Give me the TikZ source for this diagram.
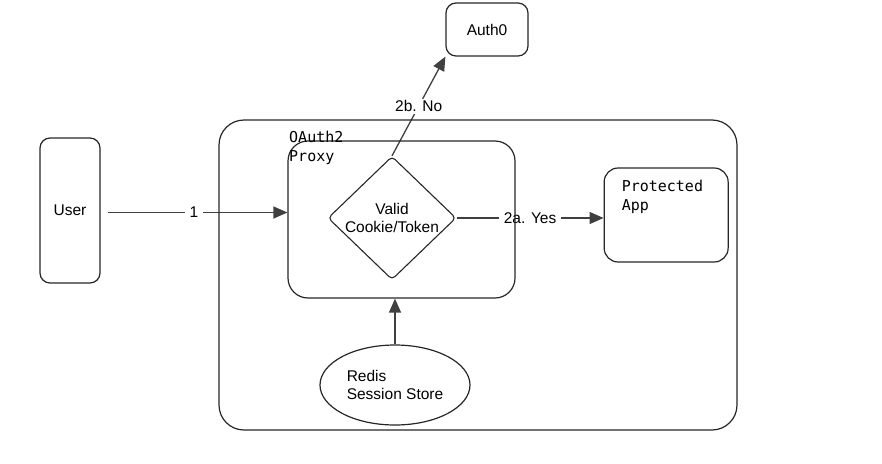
\documentclass[tikz,border=0pt]{standalone}
\usepackage{fontspec}
\setmainfont{Liberation Sans}
\newfontfamily\codefont{DejaVu Sans Mono}
\usetikzlibrary{shapes.geometric, arrows.meta, positioning, backgrounds}
\tikzset{
  box/.style={
    rectangle, rounded corners=12pt, draw=black!85, line width=1.2pt,
    inner sep=0pt, align=center
  },
  decision/.style={
    diamond, rounded corners=4pt, draw=black!85, line width=1.1pt,
    inner sep=0pt, align=center, minimum width=128pt, minimum height=106pt
  },
  store/.style={
    ellipse, draw=black!85, line width=1.2pt, align=left,
    minimum width=150pt, minimum height=80pt
  },
  codelabel/.style={
    font=\codefont\fontsize{15}{19}\selectfont, align=left, inner sep=0pt,
    anchor=north west
  },
  arrow/.style={
    -{Triangle[length=14pt,width=12pt]}, line width=1.3pt, color=black!75
  },
  steplabel/.style={fill=white, inner xsep=5pt, inner ysep=2pt, text=black}
}

\begin{document}
\begin{tikzpicture}[x=1pt, y=-1pt, font=\fontsize{15.5}{18}\selectfont]

\useasboundingbox (0,0) rectangle (882,463);

\node[box, minimum width=518pt, minimum height=310pt, rounded corners=25pt] (frame) at (478,275) {};
\node[box, minimum width=227pt, minimum height=157pt, rounded corners=20pt] (proxy) at (401.5,219.5) {};
\node[codelabel] (proxylabel) at (289,131) {OAuth2\\Proxy};

\node[box, minimum width=60pt, minimum height=145pt, rounded corners=10pt] (user) at (70,210.5) {User};
\node[decision] (check) at (392,218) {Valid\\Cookie/Token};

\node[box, minimum width=124pt, minimum height=94pt, rounded corners=14pt, right=147pt of check, yshift=3pt] (app) {};
\node[codelabel] (applabel) at ([shift={(18,12)}]app.north west) {Protected\\App};

\node[box, minimum width=82pt, minimum height=53pt, rounded corners=10pt] (auth) at (487,29.5) {Auth0};
\node[store] (redis) at (395,385) {Redis\\Session Store};

\begin{scope}[on background layer]
\draw[arrow, shorten <=7pt] ([yshift=-2pt]user.east) -- node[steplabel] {1} ([yshift=-2pt]user.east -| proxy.west);
\draw[arrow] (check.east) -- node[steplabel] {2a. Yes} (check.east -| app.west);
\draw[arrow] (check.north) -- node[steplabel] {2b. No} (auth.south west);
\draw[arrow] (redis.north) -- (redis.north |- proxy.south);
\end{scope}

\end{tikzpicture}
\end{document}
